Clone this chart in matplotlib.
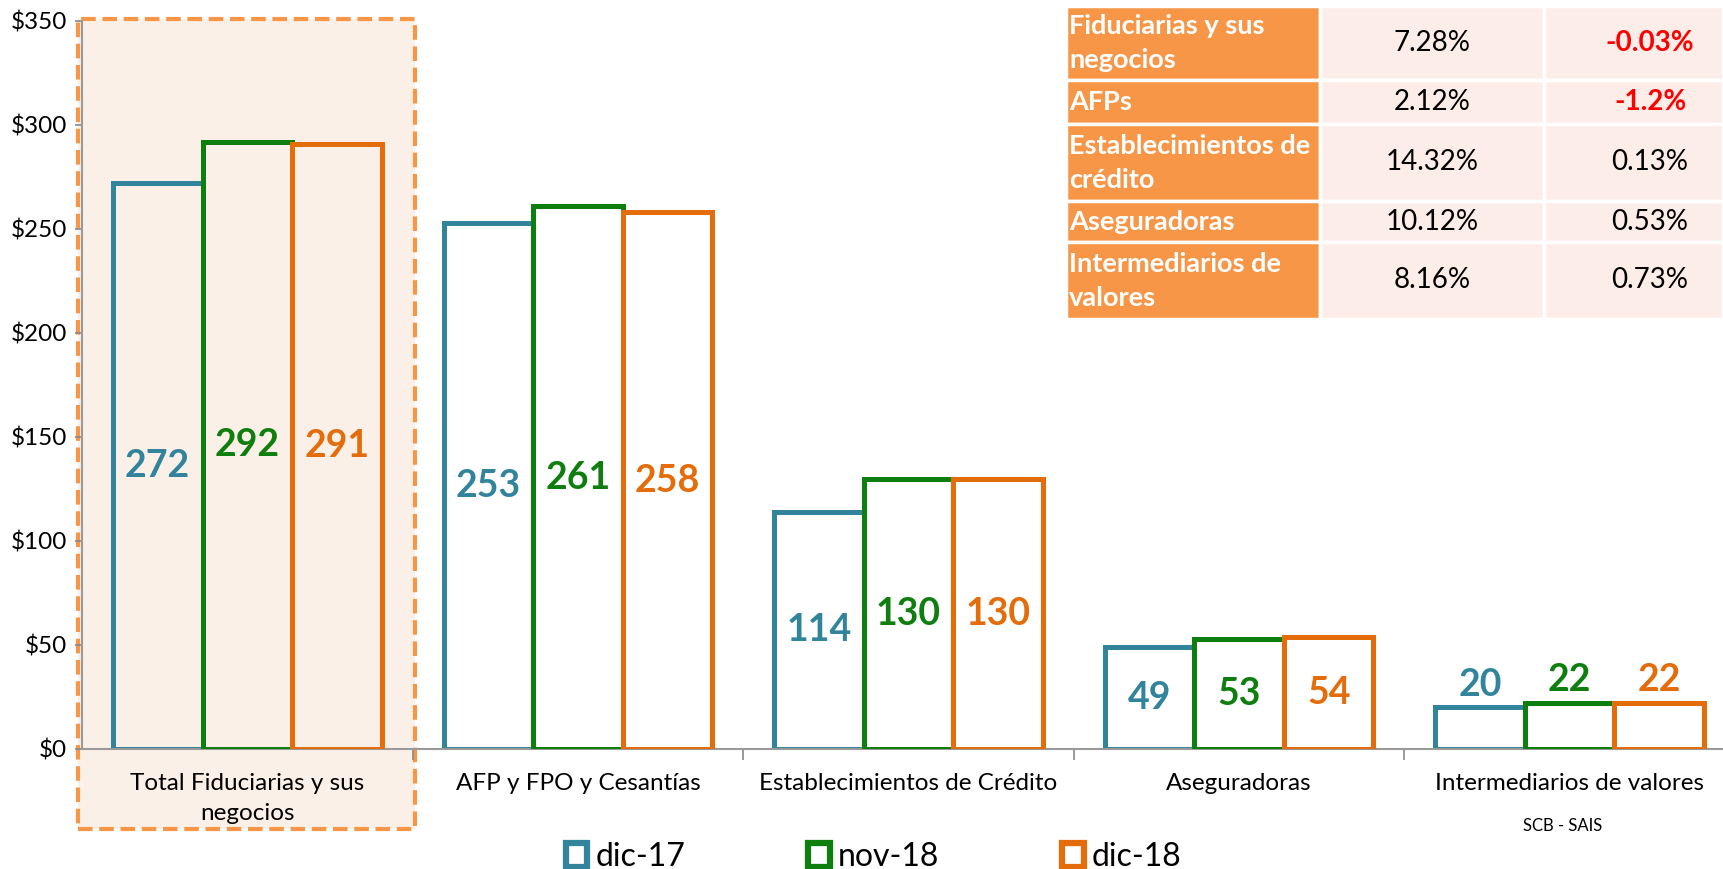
import numpy as np
import matplotlib.pyplot as plt
import matplotlib.transforms as mtransforms
from matplotlib.patches import Rectangle
from matplotlib.ticker import FuncFormatter

plt.rcParams['font.family'] = ['Lato', 'DejaVu Sans']

categories = ["Total Fiduciarias y sus\nnegocios", "AFP y FPO y Cesantías",
              "Establecimientos de Crédito", "Aseguradoras", "Intermediarios de valores"]
periods = ["dic-17", "nov-18", "dic-18"]
dic17 = [272, 253, 114, 49, 20]
nov18 = [292, 261, 130, 53, 22]
dic18 = [291, 258, 130, 54, 22]
colors = ["#31849B", "#0E7E0E", "#E46C0A"]

# variation table (top right)
table_rows = ["Fiduciarias y sus\nnegocios", "AFPs", "Establecimientos de\ncrédito",
              "Aseguradoras", "Intermediarios de\nvalores"]
var_anual = ["7.28%", "2.12%", "14.32%", "10.12%", "8.16%"]
var_mensual = ["-0.03%", "-1.2%", "0.13%", "0.53%", "0.73%"]

W, H = 1723, 869
fig = plt.figure(figsize=(W / 100, H / 100), dpi=100)
ax = fig.add_axes([82 / W, 120 / H, 1653 / W, 728 / H])
ax.set_facecolor('none')

x = np.arange(len(categories))
bw = 0.271
for i, (vals, col, lab) in enumerate(zip([dic17, nov18, dic18], colors, periods)):
    bars = ax.bar(x + (i - 1) * bw, vals, bw, facecolor='none', edgecolor=col,
                  linewidth=3.6, label=lab, zorder=2 + i)
    for j, (b, v) in enumerate(zip(bars, vals)):
        cx = b.get_x() + b.get_width() / 2
        # small bars get the label above
        ypos = v + 11 if v < 30 else v / 2
        ax.text(cx, ypos, str(v), ha='center', va='center', color=col,
                fontsize=27, fontweight='bold', zorder=6)

ax.set_xlim(-0.5, 4.5)
ax.set_ylim(0, 350)
ax.set_yticks(np.arange(0, 351, 50))
ax.yaxis.set_major_formatter(FuncFormatter(lambda v, p: r"\$%d" % v))
ax.set_xticks(x)
ax.set_xticklabels(categories)
for t in ax.get_xticklabels():
    t.set_linespacing(1.55)
ax.set_xticks(np.arange(0.5, 4.5, 1), minor=True)
ax.tick_params(axis='x', which='major', length=0, pad=17, labelsize=17.5)
ax.tick_params(axis='x', which='minor', length=8, color='#888888', width=1.2)
ax.tick_params(axis='y', length=5, color='#888888', width=1.2, labelsize=17.5, pad=6)
for s in ['top', 'right']:
    ax.spines[s].set_visible(False)
for s in ['left', 'bottom']:
    ax.spines[s].set_color('#999999')
    ax.spines[s].set_linewidth(1.5)

# highlight box on first group
trans = mtransforms.blended_transform_factory(ax.transData, ax.transAxes)
ax.add_patch(Rectangle((-0.512, -0.11), 1.02, 1.113, transform=trans,
                       facecolor='#FBF0E7', edgecolor='#F79646', lw=3,
                       linestyle=(0, (3.5, 1.6)), clip_on=False, zorder=0.5))

fig.text(1563 / W, 1 - 826 / H, "SCB - SAIS", ha='center', va='center', fontsize=12)

leg = fig.legend(loc='center', bbox_to_anchor=(0.507, 1 - 857 / H), ncol=3, frameon=False,
                 fontsize=23, handlelength=0.68, handleheight=0.8, handletextpad=0.25,
                 columnspacing=3.85)
for h in leg.legend_handles:
    h.set_linewidth(4.5)

# table
tax = fig.add_axes([1066 / W, 1 - 319 / H, 657 / W, 313.5 / H])
tax.set_xlim(0, 657)
tax.set_ylim(313.5, 0)
tax.axis('off')
col_edges = [0, 254, 478, 657]
row_edges = [0, 74.5, 118.5, 195.5, 236.5, 313.5]
text_x = [3, 366, 584]
for r in range(len(table_rows)):
    y0, y1 = row_edges[r], row_edges[r + 1]
    ym = (y0 + y1) / 2
    for c in range(3):
        fc = '#F79646' if c == 0 else '#FCEDE8'
        tax.add_patch(Rectangle((col_edges[c], y0), col_edges[c + 1] - col_edges[c], y1 - y0,
                                facecolor=fc, edgecolor='white', lw=2.5))
    tax.text(text_x[0], ym, table_rows[r], ha='left', va='center', color='white',
             fontsize=19.5, fontweight='bold', linespacing=1.5)
    tax.text(text_x[1], ym, var_anual[r], ha='center', va='center', fontsize=20)
    neg = var_mensual[r].startswith('-')
    tax.text(text_x[2], ym, var_mensual[r], ha='center', va='center', fontsize=20,
             color='#FF0000' if neg else 'black', fontweight='bold' if neg else 'normal')

plt.savefig('out.png', dpi=100)
